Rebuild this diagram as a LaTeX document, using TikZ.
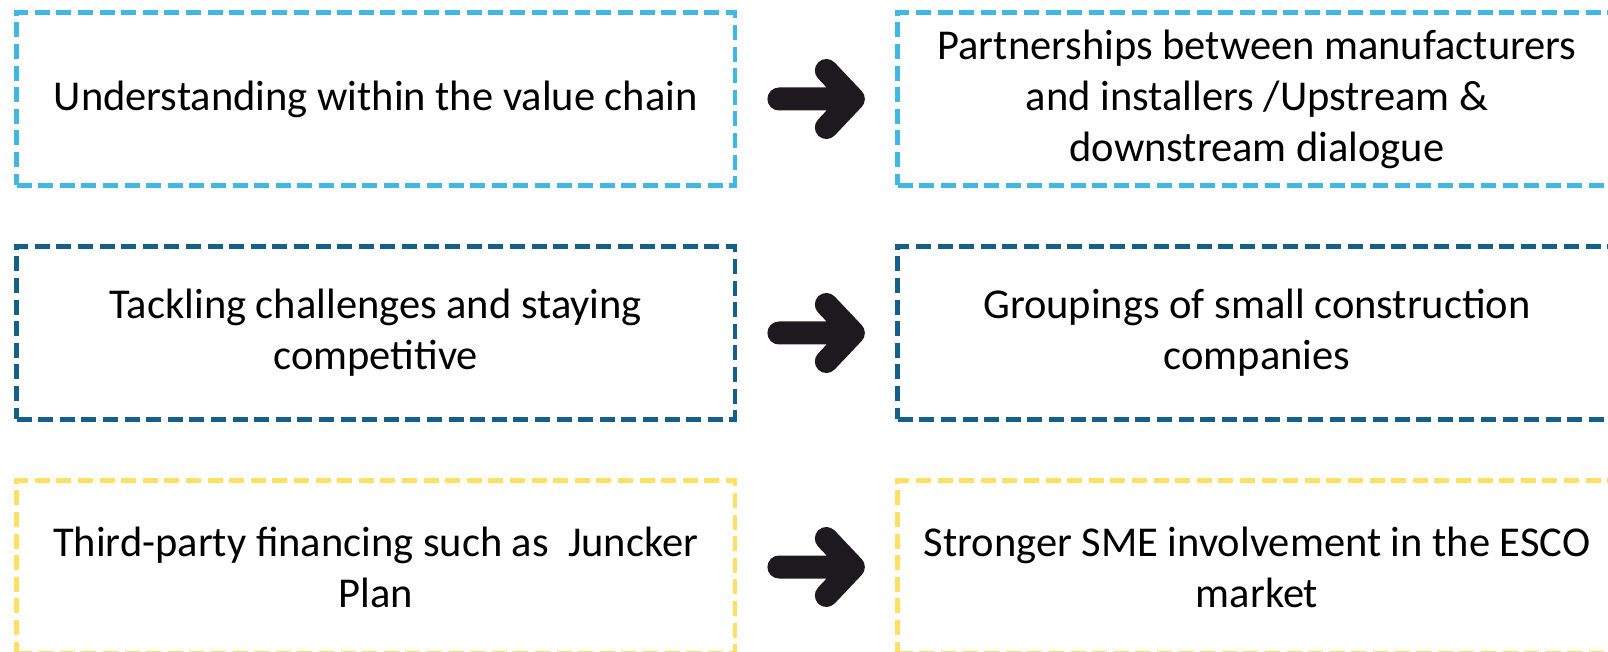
\documentclass[tikz,border=0pt]{standalone}
\usepackage{fontspec}
\setmainfont{Carlito}
\definecolor{lblue}{RGB}{65,184,228}
\definecolor{dblue}{RGB}{21,96,138}
\definecolor{yell}{RGB}{255,223,100}
\definecolor{arrowc}{RGB}{28,26,31}
\tikzset{
  box/.style={draw=#1, line width=2.4pt, dash pattern=on 7.5pt off 3.3pt,
    minimum width=359.25pt, minimum height=86.5pt, inner sep=0pt,
    align=center, font=\fontsize{21.25pt}{25.5pt}\selectfont},
  bigarrow/.style={draw=arrowc, line width=11.5pt, line cap=round, line join=round}
}
\begin{document}
\begin{tikzpicture}[x=0.5pt,y=-0.5pt]
\useasboundingbox (0,0) rectangle (1608,652);
\clip (0,0) rectangle (1608,652);
% row 1
\node[box=lblue] (l1) at (375.75,99) {Understanding within the value chain};
\node[box=lblue] (r1) at (1257,99) {Partnerships between manufacturers\\and installers /Upstream \&\\downstream dialogue};
% row 2
\node[box=dblue] (l2) at (375.75,333) {Tackling challenges and staying\\competitive};
\node[box=dblue] (r2) at (1257,333) {Groupings of small construction\\companies};
% row 3
\node[box=yell] (l3) at (375.75,567) {Third-party financing such as~ Juncker\\Plan};
\node[box=yell] (r3) at (1257,567) {Stronger SME involvement in the ESCO\\market};
% arrows
\foreach \i in {1,2,3}{
  \path (l\i.east) ++(41.5,0) coordinate (s\i);
  \path (r\i.west) ++(-42,0) coordinate (e\i);
  \draw[bigarrow] (s\i) -- (e\i) (e\i) ++(-27,-28.5) -- (e\i) -- ++(-27,28.5);
}
\end{tikzpicture}
\end{document}
